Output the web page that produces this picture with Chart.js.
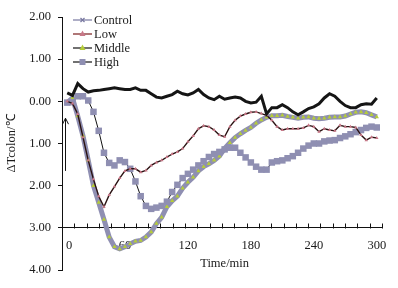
<!DOCTYPE html>
<html>
<head>
<meta charset="utf-8">
<script src="https://cdn.jsdelivr.net/npm/chart.js@4"></script>
<style>
    html, body { margin: 0; padding: 0; background: #fff; }
    #box { width: 398px; height: 288px; }
</style>
</head>
<body>
<div id="box"><canvas id="grafico"></canvas></div>
<script>
const tempos = [5, 10, 15, 20, 25, 30, 35, 40, 45, 50, 55, 60, 65, 70, 75, 80, 85, 90, 95, 100,
    105, 110, 115, 120, 125, 130, 135, 140, 145, 150, 155, 160, 165, 170, 175, 180, 185, 190, 195, 200,
    205, 210, 215, 220, 225, 230, 235, 240, 245, 250, 255, 260, 265, 270, 275, 280, 285, 290, 295, 300];

const control = [0.20, 0.14, 0.42, 0.30, 0.22, 0.25, 0.26, 0.28, 0.30, 0.32, 0.30, 0.28, 0.28, 0.32, 0.26, 0.26, 0.18, 0.10, 0.08, 0.12,
    0.16, 0.24, 0.18, 0.15, 0.20, 0.28, 0.16, 0.08, 0.04, 0.12, 0.05, 0.08, 0.10, 0.08, 0.00, -0.04, -0.02, 0.12, -0.30, -0.15,
    -0.15, -0.08, -0.15, -0.25, -0.32, -0.25, -0.17, -0.13, -0.06, 0.08, 0.18, 0.12, 0.00, -0.10, -0.15, -0.15, -0.08, -0.06, -0.07, 0.08];

const low = [0.00, -0.05, -0.30, -0.85, -1.40, -1.85, -2.25, -2.50, -2.22, -2.02, -1.82, -1.65, -1.60, -1.60, -1.68, -1.64, -1.52, -1.45, -1.40, -1.32,
    -1.25, -1.20, -1.12, -0.96, -0.82, -0.65, -0.58, -0.60, -0.68, -0.80, -0.84, -0.60, -0.45, -0.35, -0.30, -0.26, -0.25, -0.29, -0.33, -0.45,
    -0.60, -0.68, -0.65, -0.65, -0.65, -0.63, -0.57, -0.60, -0.72, -0.65, -0.68, -0.70, -0.57, -0.60, -0.60, -0.62, -0.80, -0.92, -0.85, -0.87];

const middle = [-0.03, 0.08, -0.35, -0.82, -1.40, -2.00, -2.40, -2.80, -3.22, -3.45, -3.50, -3.45, -3.38, -3.32, -3.30, -3.22, -3.10, -2.90, -2.75, -2.50,
    -2.36, -2.25, -2.06, -1.92, -1.80, -1.65, -1.55, -1.48, -1.40, -1.30, -1.12, -0.98, -0.86, -0.77, -0.69, -0.62, -0.52, -0.44, -0.38, -0.34,
    -0.34, -0.33, -0.36, -0.38, -0.40, -0.38, -0.37, -0.40, -0.41, -0.40, -0.38, -0.37, -0.37, -0.35, -0.30, -0.26, -0.25, -0.27, -0.32, -0.37];

const high = [-0.03, -0.02, 0.12, 0.12, 0.02, -0.25, -0.70, -1.22, -1.46, -1.52, -1.40, -1.44, -1.60, -1.90, -2.25, -2.48, -2.55, -2.52, -2.48, -2.38,
    -2.15, -1.98, -1.82, -1.72, -1.62, -1.52, -1.42, -1.32, -1.25, -1.20, -1.14, -1.10, -1.10, -1.22, -1.33, -1.45, -1.55, -1.62, -1.62, -1.45,
    -1.42, -1.40, -1.35, -1.30, -1.22, -1.12, -1.05, -1.00, -1.00, -0.95, -0.93, -0.92, -0.87, -0.83, -0.78, -0.73, -0.68, -0.63, -0.60, -0.62];

const xTicks = [0, 60, 120, 180, 240, 300];
const yTicks = [2, 1, 0, -1, -2, -3, -4];
const nomes = ['Control', 'Low', 'Middle', 'High'];

document.addEventListener('DOMContentLoaded', function () {

    const fonte = 'Liberation Serif, Times New Roman, serif';
    const cinza = '#8f8fb2';

    function pontos(valores) {
        return valores.map((v, i) => ({ x: tempos[i], y: v }));
    }

    // legend samples, arrow, x title and the small x ticks
    const extras = {
        id: 'extras',
        afterDraw(chart) {
            const ctx = chart.ctx;
            const sx = chart.scales.x;
            const sy = chart.scales.y;

            ctx.save();
            ctx.strokeStyle = '#111';
            ctx.lineWidth = 1;

            const eixo = Math.round(sy.getPixelForValue(-3)) + 0.5;
            for (let k = 0; k <= 26; k++) {
                const px = Math.round(sx.getPixelForValue(k * sx.max / 26)) + 0.5;
                ctx.beginPath();
                ctx.moveTo(px, eixo);
                ctx.lineTo(px, eixo - 5);
                ctx.stroke();
            }

            const ax = Math.round(sx.getPixelForValue(3)) + 0.5;
            const topo = sy.getPixelForValue(-0.4);
            ctx.beginPath();
            ctx.moveTo(ax, sy.getPixelForValue(-1.65));
            ctx.lineTo(ax, topo);
            ctx.moveTo(ax - 3, topo + 6);
            ctx.lineTo(ax, topo);
            ctx.lineTo(ax + 3, topo + 6);
            ctx.stroke();

            ctx.font = '12.5px ' + fonte;
            ctx.fillStyle = '#1a1a1a';
            ctx.textAlign = 'center';
            ctx.textBaseline = 'middle';
            // the zero label sits a little right of the axis in the original
            ctx.fillText('0', sx.getPixelForValue(xTicks[0]) + 7, eixo + 17);
            ctx.fillText('Time/min', sx.getPixelForValue(155), eixo + 35);
            ctx.textAlign = 'left';

            const estilos = [
                { linha: '#7878a0', marca: 'cruz', cor: '#7878a0' },
                { linha: '#7a1c1c', marca: 'tri', cor: '#c87888' },
                { linha: '#111', marca: 'tri', cor: '#b5cc3a' },
                { linha: '#111', marca: 'quad', cor: cinza }
            ];

            nomes.forEach((nome, i) => {
                const y = 20 + i * 14;
                const e = estilos[i];
                ctx.strokeStyle = e.linha;
                ctx.lineWidth = 1.2;
                ctx.beginPath();
                ctx.moveTo(73, y);
                ctx.lineTo(92, y);
                ctx.stroke();

                ctx.fillStyle = e.cor;
                ctx.strokeStyle = e.cor;
                if (e.marca === 'quad') {
                    ctx.fillRect(79.5, y - 3, 6, 6);
                } else if (e.marca === 'tri') {
                    ctx.beginPath();
                    ctx.moveTo(82.5, y - 3.5);
                    ctx.lineTo(85.5, y + 2);
                    ctx.lineTo(79.5, y + 2);
                    ctx.closePath();
                    ctx.fill();
                } else {
                    ctx.beginPath();
                    ctx.moveTo(80.5, y - 2);
                    ctx.lineTo(84.5, y + 2);
                    ctx.moveTo(84.5, y - 2);
                    ctx.lineTo(80.5, y + 2);
                    ctx.stroke();
                }

                ctx.fillStyle = '#1a1a1a';
                ctx.fillText(nome, 94, y + 0.5);
            });

            ctx.restore();
        }
    };

    new Chart(document.getElementById('grafico'), {

        type: 'line',

        data: {
            datasets: [
                {
                    label: nomes[0],
                    data: pontos(control),
                    borderColor: '#151515',
                    borderWidth: 3,
                    pointRadius: 0,
                    order: 0
                },
                {
                    label: nomes[1],
                    data: pontos(low),
                    borderColor: '#2a1212',
                    borderWidth: 1.4,
                    pointStyle: 'triangle',
                    pointRadius: 2,
                    pointBackgroundColor: '#c87888',
                    pointBorderColor: '#c87888',
                    pointBorderWidth: 0,
                    order: 1
                },
                {
                    label: nomes[2],
                    data: pontos(middle),
                    borderColor: cinza,
                    borderWidth: 5,
                    pointStyle: 'triangle',
                    pointRadius: 2.5,
                    pointBackgroundColor: '#b5cc3a',
                    pointBorderColor: '#b5cc3a',
                    pointBorderWidth: 0,
                    order: 3
                },
                {
                    label: nomes[3],
                    data: pontos(high),
                    borderColor: '#111',
                    borderWidth: 1,
                    pointStyle: 'rect',
                    pointRadius: 4.6,
                    pointBackgroundColor: cinza,
                    pointBorderColor: cinza,
                    pointBorderWidth: 0,
                    order: 2
                }
            ]
        },

        options: {
            responsive: true,
            maintainAspectRatio: false,
            animation: false,
            layout: {
                padding: { top: 17, right: 16, bottom: 18, left: 0 }
            },
            elements: {
                line: { tension: 0 }
            },
            plugins: {
                legend: { display: false },
                tooltip: { enabled: false }
            },
            scales: {
                x: {
                    type: 'linear',
                    min: 0,
                    max: 305,
                    position: { y: -3 },
                    afterBuildTicks: function (s) {
                        s.ticks = xTicks.map(v => ({ value: v }));
                    },
                    grid: { display: false, drawTicks: false },
                    border: { display: true, color: '#111', width: 1 },
                    ticks: {
                        padding: 10,
                        maxRotation: 0,
                        color: '#1a1a1a',
                        font: { family: fonte, size: 12.5 },
                        callback: v => (v === 0 ? '' : String(v))
                    },
                    title: { display: false }
                },
                y: {
                    min: -4,
                    max: 2,
                    afterBuildTicks: function (s) {
                        s.ticks = yTicks.map(v => ({ value: v }));
                    },
                    afterFit: function (s) {
                        s.width = 62;
                    },
                    grid: {
                        drawOnChartArea: false,
                        drawTicks: true,
                        tickLength: 4,
                        color: '#111'
                    },
                    border: { display: true, color: '#111', width: 1 },
                    ticks: {
                        padding: 7,
                        color: '#1a1a1a',
                        font: { family: fonte, size: 12.5 },
                        callback: v => Math.abs(v).toFixed(2)
                    },
                    title: {
                        display: true,
                        text: 'ΔTcolon/℃',
                        color: '#1a1a1a',
                        padding: { top: 4, bottom: 0 },
                        font: { family: fonte, size: 12.5, weight: 'normal' }
                    }
                }
            }
        },

        plugins: [extras]

    });

});
</script>
</body>
</html>
